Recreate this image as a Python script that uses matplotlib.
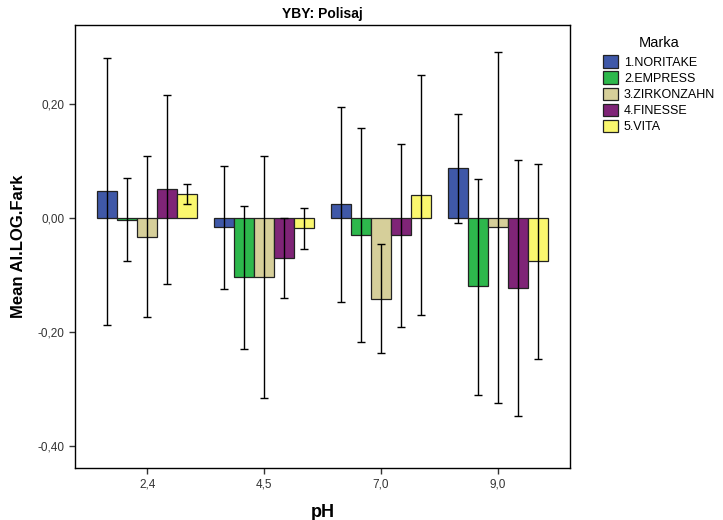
import numpy as np
import matplotlib
matplotlib.use('Agg')
import matplotlib.pyplot as plt
from matplotlib.ticker import FuncFormatter

plt.rcParams['font.family'] = ['Liberation Sans', 'DejaVu Sans']

ph_labels = ['2,4', '4,5', '7,0', '9,0']
marka = ['1.NORITAKE', '2.EMPRESS', '3.ZIRKONZAHN', '4.FINESSE', '5.VITA']
colors = ['#3F58A8', '#2DB84C', '#D6CF9A', '#7F2477', '#FAF76E']

# mean per marka, one value per pH
noritake = [0.047, -0.015, 0.024, 0.087]
empress = [-0.003, -0.104, -0.029, -0.120]
zirkonzahn = [-0.033, -0.104, -0.143, -0.016]
finesse = [0.050, -0.070, -0.030, -0.123]
vita = [0.042, -0.018, 0.040, -0.075]

# 95% CI lower / upper
noritake_lo = [-0.188, -0.124, -0.147, -0.009]
noritake_hi = [0.281, 0.092, 0.195, 0.182]
empress_lo = [-0.075, -0.230, -0.218, -0.311]
empress_hi = [0.070, 0.021, 0.158, 0.069]
zirkonzahn_lo = [-0.173, -0.315, -0.237, -0.325]
zirkonzahn_hi = [0.109, 0.108, -0.046, 0.292]
finesse_lo = [-0.116, -0.141, -0.191, -0.347]
finesse_hi = [0.216, 0.000, 0.130, 0.101]
vita_lo = [0.025, -0.054, -0.170, -0.248]
vita_hi = [0.059, 0.017, 0.251, 0.095]

means = [noritake, empress, zirkonzahn, finesse, vita]
lows = [noritake_lo, empress_lo, zirkonzahn_lo, finesse_lo, vita_lo]
highs = [noritake_hi, empress_hi, zirkonzahn_hi, finesse_hi, vita_hi]

fig = plt.figure(figsize=(7.23, 5.2), dpi=100)
ax = fig.add_axes([0.1035, 0.1, 0.6855, 0.852])

x = np.arange(len(ph_labels))
w = 0.171
for k in range(5):
    pos = x + (k - 2) * w
    m = np.array(means[k])
    ax.bar(pos, m, width=w, color=colors[k], edgecolor='#222222',
           linewidth=0.9, label=marka[k], zorder=2)
for k in range(5):
    pos = x + (k - 2) * w
    m = np.array(means[k])
    err = [m - np.array(lows[k]), np.array(highs[k]) - m]
    ax.errorbar(pos, m, yerr=err, fmt='none', ecolor='black',
                elinewidth=1.0, capsize=3, capthick=1.0, zorder=3)

ax.set_xlim(-0.62, 3.62)
ax.set_ylim(-0.4386, 0.3386)
ax.set_xticks(x)
ax.set_xticklabels(ph_labels)
ax.set_yticks([-0.4, -0.2, 0.0, 0.2])
ax.yaxis.set_major_formatter(FuncFormatter(lambda v, p: ('%.2f' % v).replace('.', ',')))
ax.tick_params(labelsize=8.5, colors='#333333', length=4, width=1)
for s in ax.spines.values():
    s.set_linewidth(1.0)
    s.set_color('black')

ax.set_title('YBY: Polisaj', fontsize=10, fontweight='bold', pad=5)
ax.set_ylabel('Mean AI.LOG.Fark', fontsize=12, fontweight='bold', labelpad=8)
ax.set_xlabel('pH', fontsize=13, fontweight='bold', labelpad=10)

leg = ax.legend(title='Marka', loc='upper left', bbox_to_anchor=(1.055, 0.987),
                frameon=False, fontsize=9, title_fontsize=10.5,
                handlelength=1.25, handleheight=1.15, handletextpad=0.45,
                labelspacing=0.22, borderaxespad=0)
leg._legend_box.sep = 4

fig.savefig('out.png', dpi=100)
